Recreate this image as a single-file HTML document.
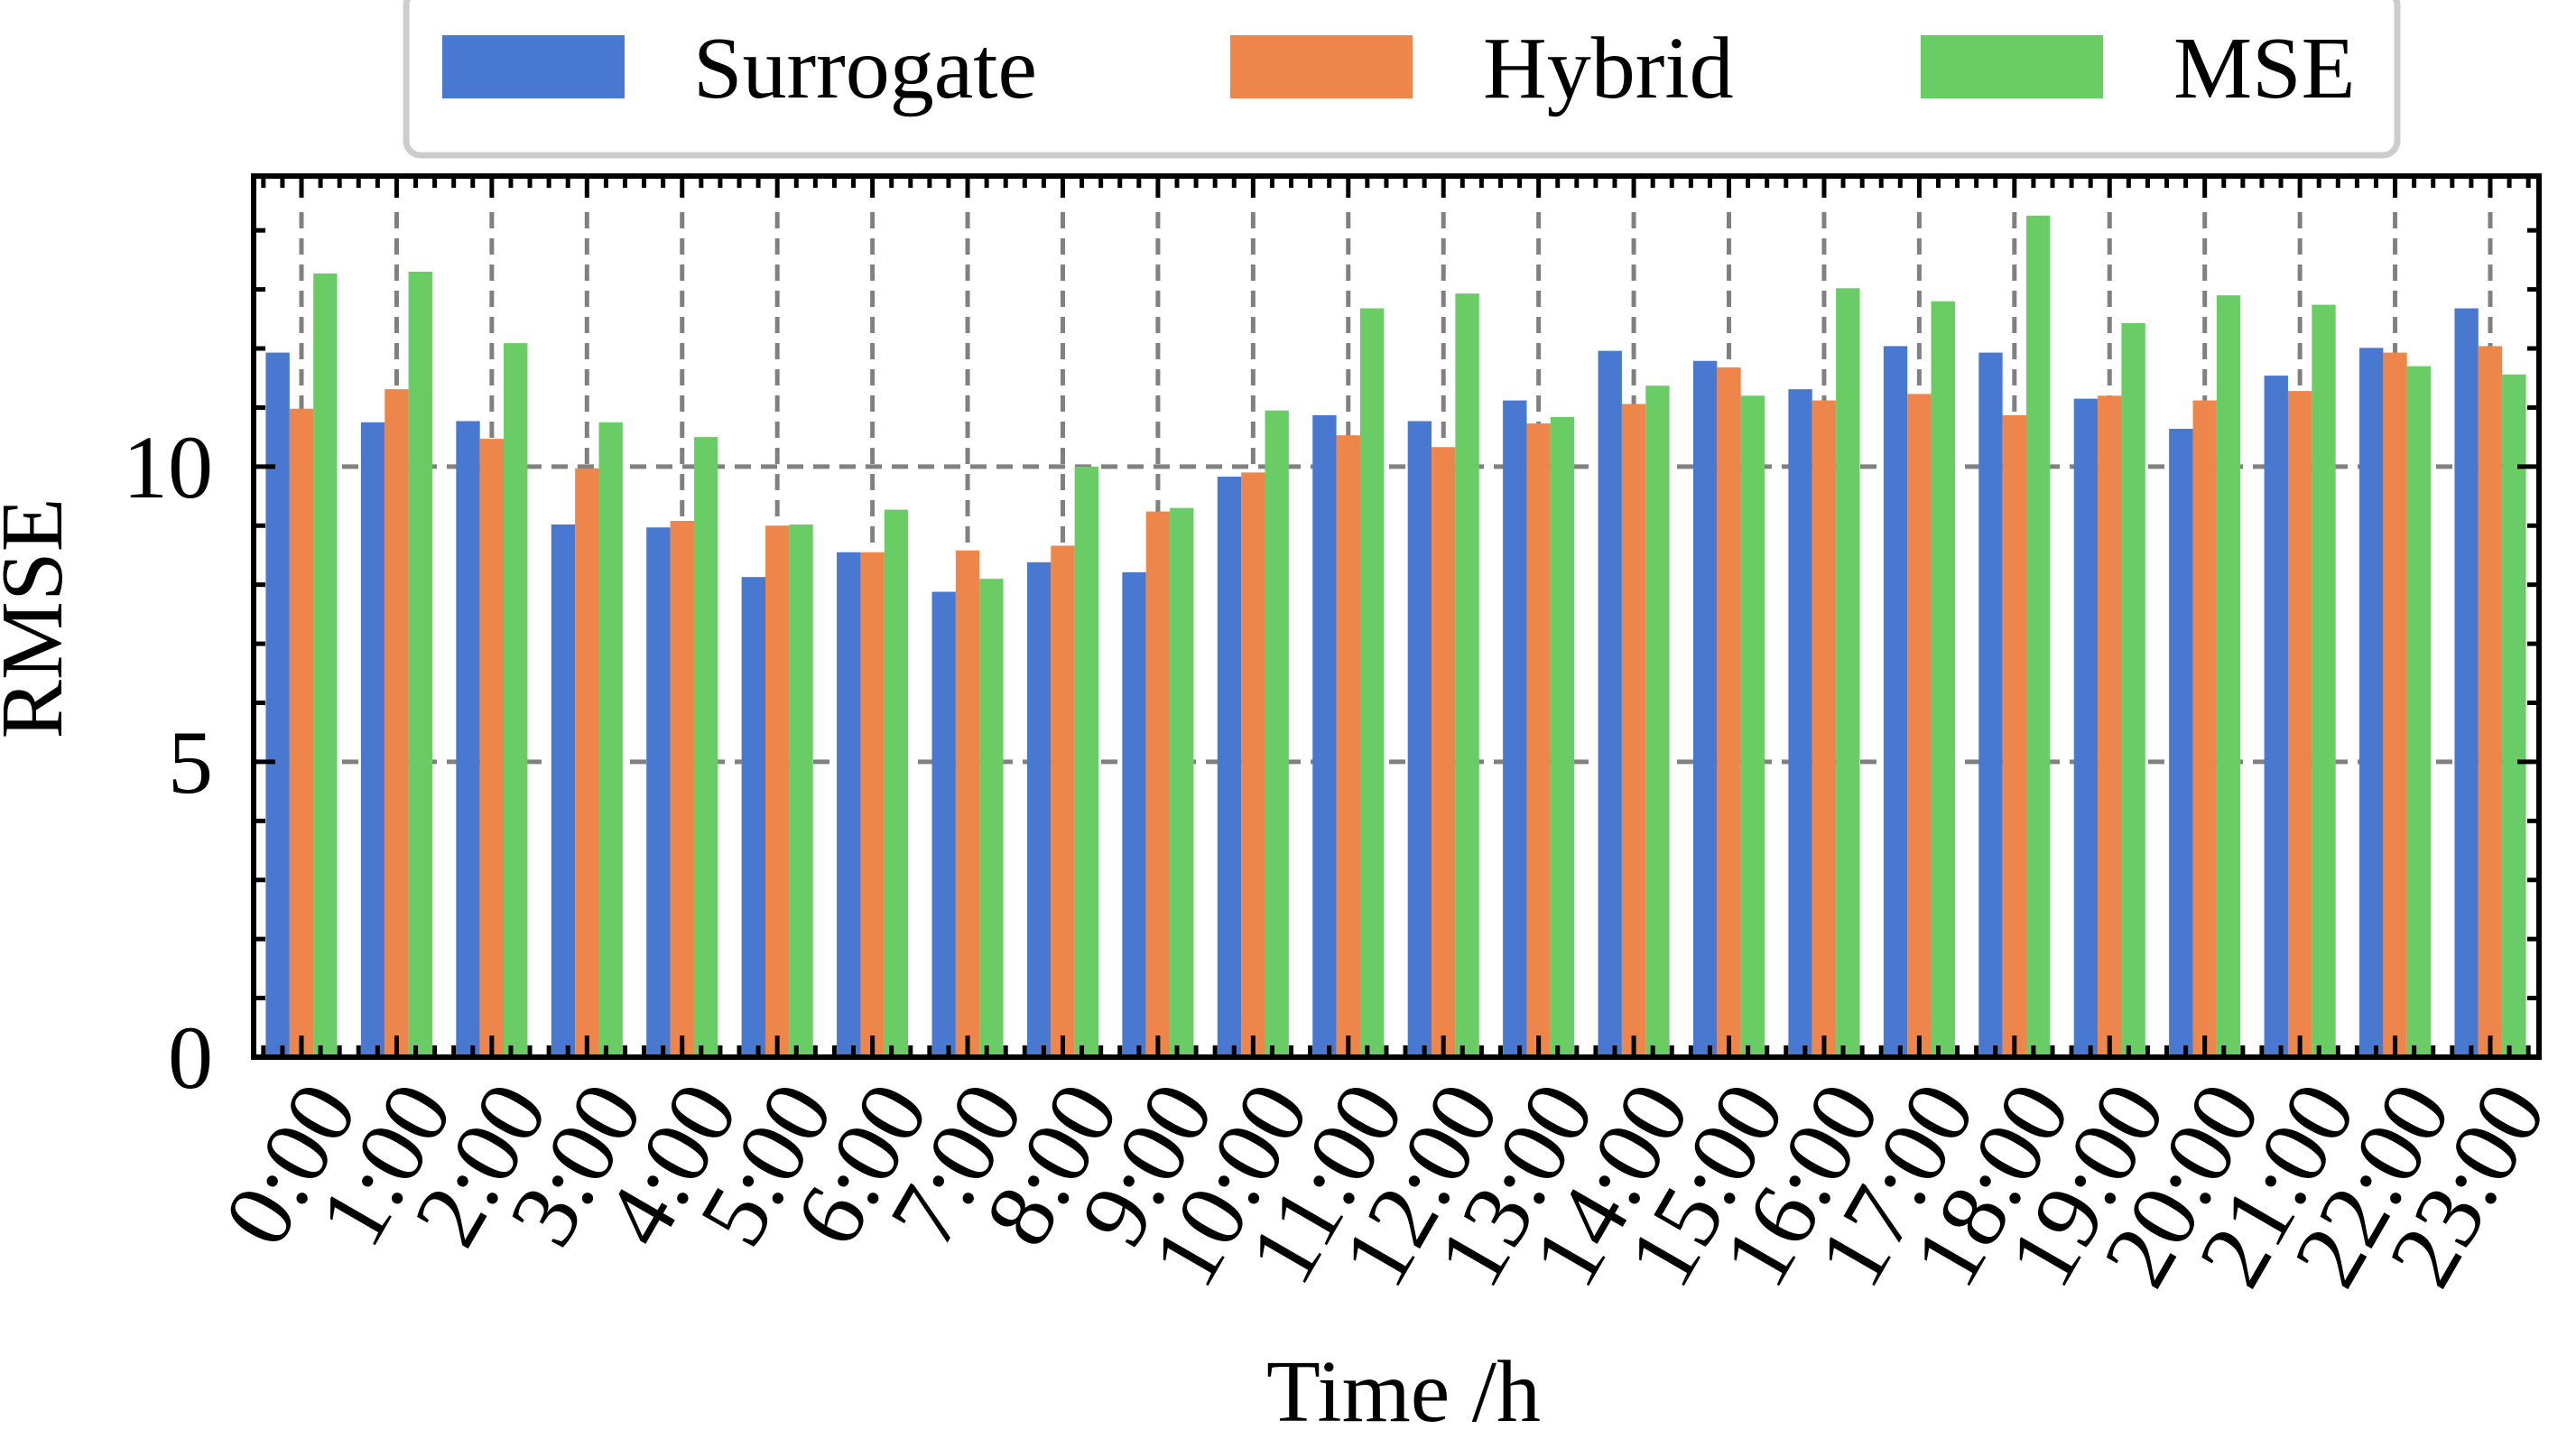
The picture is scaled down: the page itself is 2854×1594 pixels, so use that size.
<!DOCTYPE html>
<html><head><meta charset="utf-8"><style>
html,body{margin:0;padding:0;background:#fff;}
svg{display:block;font-family:"Liberation Serif","DejaVu Serif",serif;}
</style></head><body>
<svg id="chart" width="2854" height="1594" viewBox="0 0 2854 1594" xmlns="http://www.w3.org/2000/svg">
<g id="grid"></g>
<g id="bars"></g>
<g id="axes"></g>
<g id="legend">
  <rect x="450" y="-10" width="2206" height="182" rx="16" fill="#fff" stroke="#cccccc" stroke-width="7"/>
  <rect x="490" y="39" width="202" height="70" fill="#4878cf"/>
  <text x="768" y="108" font-size="98">Surrogate</text>
  <rect x="1363" y="39" width="202" height="70" fill="#ee854a"/>
  <text x="1643" y="108" font-size="98">Hybrid</text>
  <rect x="2128" y="39" width="202" height="70" fill="#6acc64"/>
  <text x="2408" y="108" font-size="98">MSE</text>
</g>
<text x="1555" y="1574" font-size="98" text-anchor="middle">Time /h</text>
<text transform="translate(68,685) rotate(-90)" font-size="98" text-anchor="middle">RMSE</text>
</svg>
<script>
const categories = ["0:00","1:00","2:00","3:00","4:00","5:00","6:00","7:00","8:00","9:00","10:00","11:00","12:00","13:00","14:00","15:00","16:00","17:00","18:00","19:00","20:00","21:00","22:00","23:00"];
const surrogate = [11.93,10.75,10.77,9.02,8.97,8.13,8.55,7.88,8.38,8.21,9.83,10.87,10.77,11.12,11.96,11.79,11.31,12.04,11.93,11.15,10.64,11.54,12.01,12.68];
const hybrid = [10.98,11.31,10.47,9.97,9.08,9.0,8.55,8.58,8.66,9.24,9.9,10.53,10.33,10.73,11.06,11.68,11.12,11.23,10.87,11.2,11.12,11.28,11.93,12.04];
const mse = [13.27,13.3,12.09,10.75,10.5,9.02,9.27,8.1,10.0,9.3,10.95,12.68,12.93,10.84,11.37,11.2,13.02,12.8,14.25,12.43,12.9,12.74,11.7,11.56];
const yTicks = [0,5,10];
const series = [surrogate, hybrid, mse];
const seriesNames = ["surrogate","hybrid","mse"];
const colors = ["#4878cf","#ee854a","#6acc64"];

const NS = "http://www.w3.org/2000/svg";
const L = 281, R = 2813, T = 195, B = 1171;
const yMax = 14.92;
const x0 = 334, step = (2759 - 334) / 23;
const xs = i => x0 + i * step;
const ys = v => B - v / yMax * (B - T);
function mk(tag, attrs, parent){ const e = document.createElementNS(NS, tag); for (const k in attrs) e.setAttribute(k, attrs[k]); parent.appendChild(e); return e; }
const grid = document.getElementById('grid'), bars = document.getElementById('bars'), axes = document.getElementById('axes');

categories.forEach((c, i) => {
  const g = mk('line', {x1: xs(i), x2: xs(i), y1: T + 40, y2: B, stroke: '#808080', 'stroke-width': 5, 'stroke-dasharray': '18,11'}, grid);
  
  
});
yTicks.forEach(t => {
  if (t === 0) return;
  const g = mk('line', {x1: L + 40, x2: R, y1: ys(t), y2: ys(t), stroke: '#808080', 'stroke-width': 5, 'stroke-dasharray': '18,11'}, grid);
  
  
});

const bw = step * 0.25;
series.forEach((s, k) => {
  s.forEach((v, i) => {
    const cx = xs(i) + (k - 1) * bw;
    const r = mk('rect', {x: cx - bw / 2, y: ys(v), width: bw, height: B - ys(v), fill: colors[k]}, bars);
    
    
  });
});

const sp = mk('rect', {x: L, y: T, width: R - L, height: B - T, fill: 'none', stroke: '#000', 'stroke-width': 6}, axes);



for (let i = -1; i <= 24; i++) {
  for (let m = 0; m < 5; m++) {
    const x = xs(i) + m * step / 5;
    if (x <= L + 2 || x >= R - 2) continue;
    const len = m === 0 ? 24 : 13;
    const t1 = mk('line', {x1: x, x2: x, y1: B, y2: B - len, stroke: '#000', 'stroke-width': 5}, axes);
    
    
    const t2 = mk('line', {x1: x, x2: x, y1: T, y2: T + len, stroke: '#000', 'stroke-width': 5}, axes);
    
    
  }
}
for (let v = 0; v <= 14; v++) {
  const len = v % 5 === 0 ? 24 : 13;
  const a = mk('line', {x1: L, x2: L + len, y1: ys(v), y2: ys(v), stroke: '#000', 'stroke-width': 5}, axes);
  
  
  const b = mk('line', {x1: R, x2: R - len, y1: ys(v), y2: ys(v), stroke: '#000', 'stroke-width': 5}, axes);
  
  
}
yTicks.forEach(t => {
  const tx = mk('text', {x: 236, y: ys(t) + 34, 'font-size': 100, 'text-anchor': 'end'}, axes);
  tx.textContent = t;
  
  
});
categories.forEach((c, i) => {
  const tx = mk('text', {transform: `translate(${xs(i) + 64},${B + 56}) rotate(-60)`, 'font-size': 104, 'text-anchor': 'end'}, axes);
  tx.textContent = c;
  
  
});
</script>
</body></html>
